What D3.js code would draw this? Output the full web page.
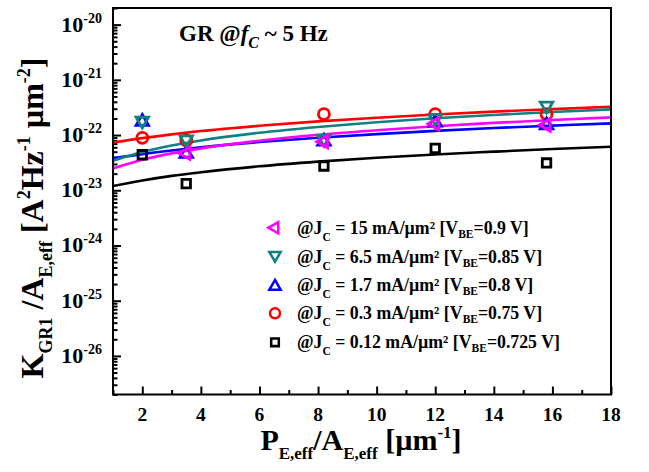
<!DOCTYPE html>
<html><head><meta charset="utf-8">
<script src="https://cdn.jsdelivr.net/npm/d3@7"></script>
<style>
body{margin:0;background:#fff}
text{font-family:"Liberation Serif","Times New Roman",serif;font-weight:bold;fill:#000}
</style>
</head><body>
<svg id="chart" width="649" height="472"></svg>
<script>
// ---- data ----
const seriesNames = ["0.12","0.3","1.7","6.5","15"];
const seriesColors = ["#000000","#ff0000","#0000ff","#108080","#ff00ff"];
const legendLabels = [
  {jc:"15", vbe:"0.9"},
  {jc:"6.5", vbe:"0.85"},
  {jc:"1.7", vbe:"0.8"},
  {jc:"0.3", vbe:"0.75"},
  {jc:"0.12", vbe:"0.725"}
];
// measured points [P/A, K/A]
const pts012 = [[2,4.4e-23],[3.5,1.32e-23],[8.2,2.75e-23],[12,5.75e-23],[15.8,3.12e-23]];
const pts03  = [[2,8.9e-23],[3.5,8.0e-23],[8.2,2.4e-22],[12,2.4e-22],[15.8,2.4e-22]];
const pts17  = [[2,1.85e-22],[3.5,4.9e-23],[8.2,8.1e-23],[12,1.8e-22],[15.8,1.6e-22]];
const pts65  = [[2,1.7e-22],[3.5,7.8e-23],[8.2,8.0e-23],[12,1.9e-22],[15.8,3.2e-22]];
const pts15  = [[3.5,4.7e-23],[8.2,7.6e-23],[12,1.6e-22],[15.8,1.52e-22]];
// fitted curves read at these x positions
const fitX   = [1,2,3,4,6,8,10,12,14,16,18];
const fit012 = [1.19e-23,1.5e-23,1.82e-23,2.12e-23,2.72e-23,3.3e-23,3.88e-23,4.45e-23,5.0e-23,5.58e-23,6.14e-23];
const fit03  = [7.31e-23,8.79e-23,1.03e-22,1.18e-22,1.47e-22,1.77e-22,2.06e-22,2.36e-22,2.66e-22,2.95e-22,3.25e-22];
const fit17  = [3.79e-23,4.52e-23,5.26e-23,6.00e-23,7.47e-23,8.95e-23,1.04e-22,1.19e-22,1.34e-22,1.48e-22,1.63e-22];
const fit65  = [3.43e-23,4.94e-23,6.46e-23,7.97e-23,1.10e-22,1.40e-22,1.71e-22,2.01e-22,2.31e-22,2.62e-22,2.92e-22];
const fit15  = [2.49e-23,3.58e-23,4.66e-23,5.74e-23,7.91e-23,1.01e-22,1.22e-22,1.44e-22,1.66e-22,1.87e-22,2.09e-22];
const xTicks = [2,4,6,8,10,12,14,16,18];
const yTickExps = [-20,-21,-22,-23,-24,-25,-26];

const series = [
  {pts:pts012, fit:fit012, color:seriesColors[0], shape:"square"},
  {pts:pts03,  fit:fit03,  color:seriesColors[1], shape:"circle"},
  {pts:pts17,  fit:fit17,  color:seriesColors[2], shape:"up"},
  {pts:pts65,  fit:fit65,  color:seriesColors[3], shape:"down"},
  {pts:pts15,  fit:fit15,  color:seriesColors[4], shape:"left"}
];

// ---- layout ----
const svg = d3.select("#chart");
const L=113, R=611, T=8, B=394.5;
const x = d3.scaleLinear().domain([1,18]).range([L,R]);
const y = d3.scaleLog().domain([2e-27,2e-20]).range([B,T]);

function rich(sel, parts, base){
  let off = 0;
  parts.forEach(p=>{
    const ts = sel.append("tspan").text(p.t);
    let target = 0, fs = base;
    if(p.fs) fs = p.fs;
    if(p.shift!==undefined) target = p.shift;
    ts.attr("dy", target-off).attr("font-size", fs);
    if(p.italic) ts.attr("font-style","italic");
    off = target;
  });
}

function symPath(shape){
  const s = {
    square: d3.symbol(d3.symbolSquare, 72),
    circle: d3.symbol(d3.symbolCircle, 95),
    up: d3.symbol(d3.symbolTriangle, 68),
    down: d3.symbol(d3.symbolTriangle, 68),
    left: d3.symbol(d3.symbolTriangle, 68)
  }[shape];
  return s();
}
function symRot(shape){ return shape==="down"?180:shape==="left"?-90:0; }
function symOff(shape){ return shape==="up"?1.5:shape==="down"?-1.5:0; }

// ---- axes ----
const minorY = [];
for(let e=-27;e<=-20;e++) for(let m=2;m<=9;m++){ const v=m*Math.pow(10,e); if(v>=2e-27 && v<=2e-20) minorY.push(v); }
const majorY = yTickExps.map(e=>Math.pow(10,e));

const gy = svg.append("g").attr("transform",`translate(${L},0)`);
gy.call(d3.axisLeft(y).tickValues(majorY).tickSize(-8).tickFormat(""));
const gym = svg.append("g").attr("transform",`translate(${L},0)`);
gym.call(d3.axisLeft(y).tickValues(minorY).tickSize(-4.5).tickFormat(""));
const gx = svg.append("g").attr("transform",`translate(0,${B})`);
gx.call(d3.axisBottom(x).tickValues(xTicks).tickSize(-8).tickFormat(""));
const gxm = svg.append("g").attr("transform",`translate(0,${B})`);
gxm.call(d3.axisBottom(x).tickValues([1,3,5,7,9,11,13,15,17]).tickSize(-4.5).tickFormat(""));
[gy,gym,gx,gxm].forEach(g=>{ g.select(".domain").remove(); g.selectAll("line").attr("stroke","#000").attr("stroke-width",2); });

// y labels
yTickExps.forEach(e=>{
  const t = svg.append("text").attr("x",102).attr("y",y(Math.pow(10,e))+7).attr("text-anchor","end").attr("font-size",22);
  rich(t,[{t:"10"},{t:String(e),fs:14,shift:-9}],22);
});
// x labels
xTicks.forEach(v=>{
  svg.append("text").attr("x",x(v)).attr("y",421).attr("text-anchor","middle").attr("font-size",19.5).text(v);
});

// ---- curves ----
svg.append("clipPath").attr("id","clp").append("rect").attr("x",L).attr("y",T).attr("width",R-L).attr("height",B-T);
const plot = svg.append("g").attr("clip-path","url(#clp)");
const line = d3.line().x((d,i)=>x(fitX[i])).y(d=>y(d)).curve(d3.curveMonotoneX);
series.forEach(s=>{
  plot.append("path").attr("d",line(s.fit)).attr("fill","none").attr("stroke",s.color).attr("stroke-width",2.6);
});
series.forEach(s=>{
  plot.selectAll(null).data(s.pts).enter().append("path")
    .attr("d",symPath(s.shape))
    .attr("transform",d=>`translate(${x(d[0])},${y(d[1])+symOff(s.shape)}) rotate(${symRot(s.shape)})`)
    .attr("fill","none").attr("stroke",s.color).attr("stroke-width",2.8);
});

// frame
svg.append("rect").attr("x",L).attr("y",T).attr("width",R-L).attr("height",B-T).attr("fill","none").attr("stroke","#000").attr("stroke-width",2);

// ---- title ----
const tt = svg.append("text").attr("x",179).attr("y",41).attr("font-size",23);
rich(tt,[{t:"GR @"},{t:"f",italic:true},{t:"C",italic:true,fs:16,shift:7},{t:" ~ 5 Hz",shift:0}],23);

// ---- legend ----
const legOrder = [4,3,2,1,0];
const rowY = [227.7,256.7,285,313.3,342.3];
legendLabels.forEach((lb,i)=>{
  const s = series[legOrder[i]];
  svg.append("path").attr("d",symPath(s.shape))
    .attr("transform",`translate(275,${rowY[i]+symOff(s.shape)}) rotate(${symRot(s.shape)}) scale(0.9)`)
    .attr("fill","none").attr("stroke",s.color).attr("stroke-width",2.8);
  const t = svg.append("text").attr("x",297).attr("y",rowY[i]+6).attr("font-size",17.8);
  rich(t,[{t:"@J"},{t:"C",fs:11.5,shift:7},{t:" = "+lb.jc+" mA/\u00b5m\u00b2 [V",shift:0},{t:"BE",fs:11.5,shift:4},{t:"="+lb.vbe+" V]",shift:0}],17.8);
});

// ---- axis titles ----
const xt = svg.append("text").attr("x",361).attr("y",450).attr("text-anchor","middle").attr("font-size",30);
rich(xt,[{t:"P"},{t:"E,eff",fs:17,shift:9},{t:"/A",shift:0},{t:"E,eff",fs:17,shift:9},{t:" [\u00b5m",shift:0},{t:"-1",fs:17,shift:-12},{t:"]",shift:0}],30);

const yt = svg.append("text").attr("transform","translate(43,218) rotate(-90)").attr("text-anchor","middle").attr("font-size",32);
rich(yt,[{t:"K"},{t:"GR1",fs:18,shift:9},{t:" /A",shift:0},{t:"E,eff",fs:18,shift:9},{t:" [A",shift:0},{t:"2",fs:18,shift:-13},{t:"Hz",shift:0},{t:"-1",fs:18,shift:-13},{t:" \u00b5m",shift:0},{t:"-2",fs:18,shift:-13},{t:"]",shift:0}],32);
</script>
</body></html>
